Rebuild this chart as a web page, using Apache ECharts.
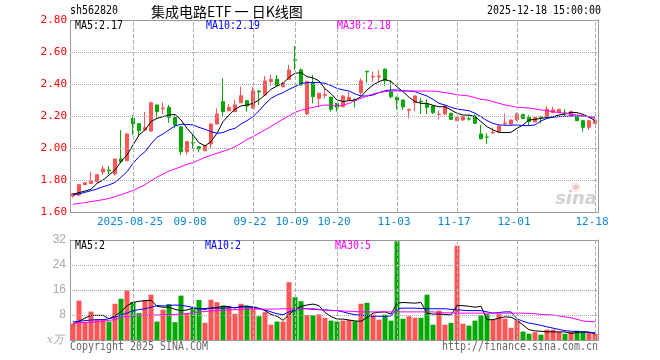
<!DOCTYPE html>
<html><head><meta charset="utf-8">
<script src="https://cdn.jsdelivr.net/npm/echarts@6/dist/echarts.min.js"></script>
<style>html,body{margin:0;padding:0;background:#fff}#c{width:660px;height:360px}</style>
</head><body><div id="c"></div><script>
const dates = ['08-11','08-12','08-13','08-14','08-15','08-18','08-19','08-20','08-21','08-22','08-25','08-26','08-27','08-28','08-29',
'09-01','09-02','09-03','09-04','09-05','09-08','09-09','09-10','09-11','09-12','09-15','09-16','09-17','09-18','09-19','09-22','09-23','09-24','09-25','09-26','09-29','09-30',
'10-09','10-10','10-13','10-14','10-15','10-16','10-17','10-20','10-21','10-22','10-23','10-24','10-27','10-28','10-29','10-30','10-31',
'11-03','11-04','11-05','11-06','11-07','11-10','11-11','11-12','11-13','11-14','11-17','11-18','11-19','11-20','11-21','11-24','11-25','11-26','11-27','11-28',
'12-01','12-02','12-03','12-04','12-05','12-08','12-09','12-10','12-11','12-12','12-15','12-16','12-17','12-18'];
const tickDates = ['08-25','09-08','09-22','10-09','10-20','11-03','11-17','12-01','12-18'];
const firstTickLabel = '2025-08-25';
const priceGrid = [1.8, 2.0, 2.2, 2.4, 2.6];
const volGrid = [8, 16, 24];
const opens = [1.700,1.706,1.771,1.779,1.790,1.850,1.862,1.838,1.931,1.921,2.185,2.152,2.112,2.106,2.269,2.245,2.254,2.190,2.133,1.977,2.035,2.008,1.983,2.025,2.150,2.290,2.233,2.227,2.283,2.296,2.248,2.356,2.331,2.415,2.429,2.383,2.429,2.552,2.488,2.213,2.408,2.310,2.329,2.317,2.279,2.258,2.300,2.302,2.346,2.479,2.444,2.444,2.492,2.352,2.317,2.300,2.236,2.283,2.292,2.275,2.262,2.209,2.212,2.217,2.171,2.175,2.183,2.200,2.088,2.069,2.094,2.102,2.152,2.150,2.175,2.210,2.192,2.163,2.194,2.196,2.221,2.221,2.219,2.200,2.196,2.171,2.129,2.154];
const closes = [1.715,1.771,1.783,1.794,1.833,1.869,1.858,1.931,1.915,2.088,2.152,2.108,2.127,2.283,2.227,2.250,2.192,2.144,1.977,2.040,2.031,1.994,2.015,2.150,2.212,2.227,2.254,2.269,2.327,2.262,2.358,2.350,2.419,2.429,2.390,2.404,2.488,2.548,2.394,2.415,2.321,2.342,2.333,2.242,2.254,2.325,2.317,2.298,2.419,2.475,2.448,2.450,2.421,2.321,2.300,2.258,2.240,2.325,2.289,2.254,2.221,2.212,2.262,2.179,2.192,2.196,2.181,2.154,2.058,2.067,2.098,2.137,2.156,2.175,2.212,2.185,2.165,2.192,2.190,2.242,2.238,2.242,2.217,2.227,2.171,2.129,2.171,2.171];
const lows = [1.690,1.700,1.768,1.775,1.786,1.831,1.838,1.827,1.904,1.918,2.081,2.071,2.108,2.100,2.185,2.210,2.158,2.123,1.956,1.960,1.992,1.973,1.980,1.998,2.148,2.200,2.230,2.225,2.280,2.227,2.245,2.270,2.325,2.388,2.388,2.379,2.425,2.488,2.390,2.206,2.279,2.254,2.310,2.227,2.227,2.255,2.295,2.254,2.331,2.408,2.415,2.415,2.388,2.310,2.242,2.238,2.185,2.233,2.212,2.212,2.212,2.179,2.206,2.175,2.168,2.170,2.171,2.150,2.054,2.025,2.088,2.092,2.144,2.144,2.170,2.180,2.144,2.160,2.154,2.190,2.218,2.218,2.196,2.196,2.168,2.102,2.113,2.150];
const highs = [1.720,1.775,1.785,1.850,1.835,1.890,1.887,1.935,2.112,2.090,2.206,2.155,2.225,2.290,2.270,2.285,2.269,2.206,2.135,2.042,2.081,2.010,2.020,2.155,2.248,2.435,2.275,2.300,2.383,2.300,2.383,2.362,2.450,2.456,2.456,2.415,2.519,2.638,2.498,2.420,2.456,2.345,2.377,2.320,2.280,2.331,2.352,2.310,2.435,2.483,2.477,2.487,2.498,2.425,2.320,2.302,2.248,2.331,2.310,2.304,2.265,2.233,2.269,2.220,2.195,2.200,2.206,2.210,2.144,2.092,2.129,2.140,2.217,2.178,2.221,2.212,2.206,2.195,2.196,2.262,2.258,2.245,2.242,2.233,2.200,2.173,2.175,2.175];
const ma5 = [1.712,1.721,1.731,1.742,1.779,1.800,1.831,1.862,1.915,1.956,2.019,2.081,2.113,2.165,2.185,2.196,2.206,2.210,2.175,2.123,2.081,2.033,2.013,2.040,2.092,2.165,2.206,2.242,2.263,2.269,2.279,2.300,2.331,2.367,2.388,2.404,2.442,2.467,2.471,2.446,2.438,2.420,2.370,2.340,2.300,2.290,2.296,2.300,2.321,2.363,2.394,2.415,2.429,2.415,2.383,2.352,2.317,2.290,2.279,2.279,2.267,2.258,2.258,2.238,2.217,2.206,2.206,2.196,2.165,2.133,2.113,2.098,2.096,2.098,2.123,2.144,2.175,2.179,2.185,2.190,2.196,2.206,2.212,2.223,2.221,2.210,2.192,2.172];
const ma10 = [1.706,1.713,1.723,1.733,1.744,1.758,1.769,1.785,1.817,1.852,1.904,1.946,1.977,2.025,2.067,2.088,2.113,2.138,2.148,2.148,2.144,2.129,2.117,2.102,2.092,2.096,2.113,2.123,2.150,2.171,2.196,2.233,2.275,2.310,2.331,2.346,2.367,2.383,2.404,2.408,2.410,2.410,2.404,2.390,2.373,2.363,2.356,2.338,2.325,2.325,2.331,2.346,2.358,2.363,2.363,2.358,2.356,2.352,2.338,2.325,2.304,2.279,2.269,2.254,2.244,2.238,2.233,2.217,2.196,2.171,2.154,2.144,2.142,2.142,2.144,2.140,2.140,2.144,2.169,2.185,2.192,2.196,2.198,2.200,2.200,2.200,2.196,2.192];
const ma30 = [1.648,1.654,1.658,1.665,1.671,1.677,1.685,1.696,1.708,1.721,1.735,1.752,1.771,1.795,1.818,1.837,1.856,1.869,1.883,1.898,1.908,1.925,1.942,1.954,1.967,1.979,1.992,2.008,2.029,2.054,2.071,2.092,2.113,2.135,2.158,2.180,2.200,2.222,2.236,2.246,2.254,2.262,2.269,2.267,2.262,2.267,2.279,2.296,2.310,2.325,2.338,2.346,2.352,2.356,2.356,2.356,2.356,2.356,2.356,2.356,2.356,2.352,2.346,2.340,2.333,2.329,2.325,2.315,2.304,2.300,2.290,2.279,2.269,2.262,2.254,2.252,2.250,2.244,2.238,2.233,2.227,2.221,2.217,2.212,2.206,2.200,2.196,2.185];
const volumes = [5.2,12.6,5.8,9.1,6.7,6.7,5.9,11.6,13.2,15.9,12.2,8.6,12.8,14.5,5.9,9.7,11.5,5.7,14.2,8.6,9.9,12.8,5.5,12.9,12.1,11.0,10.6,8.4,11.6,11.0,10.8,7.6,8.9,4.9,5.9,5.9,18.5,13.7,12.4,8.0,7.9,8.2,7.1,6.2,5.9,6.2,6.4,6.0,11.6,11.9,8.1,6.5,8.1,6.2,31.6,6.8,7.6,7.1,7.1,14.5,4.9,9.4,4.9,5.5,30.2,5.2,4.6,6.2,7.9,8.3,6.5,8.3,6.8,3.9,6.3,2.7,2.0,2.5,1.7,3.3,3.3,2.6,2.0,2.6,3.0,2.7,2.5,2.0];
const volMa5 = [5.1,6.0,7.0,7.9,7.9,7.9,6.8,7.8,9.0,11.0,12.0,12.4,12.6,12.7,10.8,10.5,10.5,9.8,9.4,9.6,10.2,10.0,9.8,10.2,10.4,10.8,10.7,10.2,10.8,10.8,10.5,10.2,9.4,8.2,7.6,6.3,8.1,9.8,10.8,11.2,11.5,11.0,8.8,7.5,6.7,6.7,6.4,6.1,6.0,7.2,8.6,8.9,9.0,8.3,11.8,12.0,11.9,11.8,12.0,8.6,8.3,8.3,8.2,8.0,11.0,11.0,10.8,10.5,10.8,6.5,6.5,7.0,7.4,7.3,6.3,4.8,3.3,2.9,2.8,2.6,2.6,2.6,2.6,2.1,2.4,2.6,2.5,2.0];
const volMa10 = [5.8,6.0,6.2,6.4,6.5,6.5,6.8,7.3,8.0,8.6,9.4,9.7,10.0,10.5,11.0,10.9,11.0,11.2,11.1,10.8,10.4,10.0,10.1,10.2,10.2,10.2,10.3,10.4,10.5,10.6,10.4,10.0,9.6,9.0,8.4,8.1,9.0,9.7,10.2,10.0,9.8,9.7,9.6,9.5,9.4,9.0,8.5,8.1,7.9,7.8,7.6,7.6,7.6,7.7,10.0,10.2,10.2,10.2,10.1,10.0,10.0,10.0,10.0,9.8,9.7,9.5,9.4,9.4,9.4,9.0,8.6,8.8,9.0,9.0,6.8,6.0,5.4,5.1,4.7,4.2,3.8,3.4,3.0,2.8,2.7,2.6,2.5,2.3];
const volMa30 = [5.4,5.5,5.6,5.7,5.8,6.0,6.3,6.5,7.2,7.6,7.7,7.8,7.9,7.9,8.0,8.1,8.1,8.2,8.3,8.5,8.7,9.0,9.1,9.3,9.4,9.5,9.6,9.7,9.8,9.9,9.9,9.9,9.9,9.9,9.9,10.0,10.0,10.0,10.0,10.0,10.0,9.8,9.6,9.4,9.4,9.3,9.2,9.1,9.0,9.0,9.0,9.0,9.0,9.0,9.0,9.0,9.0,9.0,9.0,9.0,9.0,8.8,8.7,8.7,8.6,8.6,8.6,8.6,8.6,8.6,8.6,8.6,8.6,8.6,8.6,8.6,8.5,8.4,8.2,8.1,8.0,7.7,7.4,7.1,6.6,6.1,5.9,5.8];
const priceLegend = ['MA5:2.17','MA10:2.19','MA30:2.18'];
const volLegend = ['MA5:2','MA10:2','MA30:5'];
const headerTexts = ['sh562820','集成电路ETF 一 日K线图','2025-12-18 15:00:00'];
const footerTexts = ['Copyright 2025 SINA.COM','http://finance.sina.com.cn'];

const UP = '#ff5555', DOWN = '#00a800';
const MONO = '"DejaVu Sans Mono", monospace';
const tickFn = (i, v) => tickDates.indexOf(v !== undefined ? v : dates[i]) >= 0;

const kData = dates.map((d, i) => [opens[i], closes[i], lows[i], highs[i]]);
const volData = volumes.map((v, i) => ({value: v, itemStyle: {color: closes[i] >= opens[i] ? UP : DOWN}}));

function gridLines(hValues) {
  const data = [];
  hValues.forEach(v => data.push({yAxis: v, lineStyle: {color: '#a8a8a8', type: 'dotted', width: 1}}));
  tickDates.forEach(d => data.push({xAxis: d, lineStyle: {color: '#b0b0b0', type: 'dashed', width: 1}}));
  return {silent: true, symbol: ['none', 'none'], animation: false, label: {show: false},
    emphasis: {disabled: true}, data: data};
}
function txt(x, y, s, color, align) {
  return {type: 'text', x: x, y: y, scaleX: 0.83, silent: true, z: 100,
    style: {text: s, fill: color, font: '12px ' + MONO, textAlign: align || 'left', textVerticalAlign: 'middle'}};
}
const border = () => ({show: true, onZero: false, lineStyle: {color: '#999'}});
const plain = () => ({axisLine: border(), axisTick: {show: false}, axisLabel: {show: false}, splitLine: {show: false}});

const chart = echarts.init(document.getElementById('c'), null, {renderer: 'canvas'});
chart.setOption({
  animation: false,
  grid: [
    {left: 70, top: 20, width: 528, height: 192},
    {left: 70, top: 240, width: 528, height: 100}
  ],
  xAxis: [
    {type: 'category', gridIndex: 0, data: dates, boundaryGap: true,
     axisLine: border(), axisTick: {show: false}, splitLine: {show: false},
     axisLabel: {interval: tickFn, margin: 5, color: '#0a88d8', fontFamily: MONO, fontSize: 11, padding: [0, 6, 0, 0],
       formatter: v => v === tickDates[0] ? firstTickLabel : v}},
    Object.assign({type: 'category', gridIndex: 0, data: dates, boundaryGap: true, position: 'top'}, plain()),
    {type: 'category', gridIndex: 1, data: dates, boundaryGap: true,
     axisLine: border(), axisTick: {show: false}, axisLabel: {show: false}, splitLine: {show: false}},
    Object.assign({type: 'category', gridIndex: 1, data: dates, boundaryGap: true, position: 'top'}, plain())
  ],
  yAxis: [
    {type: 'value', gridIndex: 0, min: 1.6, max: 2.8, interval: 0.2,
     axisLine: border(), axisTick: {show: false}, splitLine: {show: false},
     axisLabel: {color: '#ff0000', fontFamily: MONO, fontSize: 11, margin: 3, formatter: v => v.toFixed(2)}},
    Object.assign({type: 'value', gridIndex: 0, min: 1.6, max: 2.8, interval: 0.2, position: 'right'}, plain()),
    {type: 'value', gridIndex: 1, min: 0, max: 32, interval: 8,
     axisLine: border(), axisTick: {show: false}, splitLine: {show: false},
     axisLabel: {color: '#aaaaaa', fontFamily: '"Liberation Sans", sans-serif', fontSize: 12, margin: 4, formatter: v => v === 0 ? '' : String(v)}},
    Object.assign({type: 'value', gridIndex: 1, min: 0, max: 32, interval: 8, position: 'right'}, plain())
  ],
  series: [
    {type: 'candlestick', xAxisIndex: 0, yAxisIndex: 0, data: kData, barWidth: 4,
     itemStyle: {color: UP, color0: DOWN, borderColor: UP, borderColor0: DOWN, borderWidth: 1},
     markLine: gridLines(priceGrid)},
    {type: 'line', xAxisIndex: 0, yAxisIndex: 0, data: ma5, symbol: 'none', lineStyle: {color: '#000', width: 1}},
    {type: 'line', xAxisIndex: 0, yAxisIndex: 0, data: ma10, symbol: 'none', lineStyle: {color: '#0000ff', width: 1}},
    {type: 'line', xAxisIndex: 0, yAxisIndex: 0, data: ma30, symbol: 'none', lineStyle: {color: '#ff00ff', width: 1}},
    {type: 'bar', xAxisIndex: 2, yAxisIndex: 2, data: volData, barWidth: 5, markLine: gridLines(volGrid)},
    {type: 'line', xAxisIndex: 2, yAxisIndex: 2, data: volMa5, symbol: 'none', lineStyle: {color: '#000', width: 1}},
    {type: 'line', xAxisIndex: 2, yAxisIndex: 2, data: volMa10, symbol: 'none', lineStyle: {color: '#0000ff', width: 1}},
    {type: 'line', xAxisIndex: 2, yAxisIndex: 2, data: volMa30, symbol: 'none', lineStyle: {color: '#ff00ff', width: 1}}
  ],
  graphic: [
    txt(70, 11, headerTexts[0], '#000'),
    {type: 'text', x: 151, y: 12, silent: true, z: 100,
     style: {text: headerTexts[1], fill: '#000', font: '14px "Noto Sans CJK SC"', textAlign: 'left', textVerticalAlign: 'middle'}},
    txt(601, 11, headerTexts[2], '#000', 'right'),
    txt(75, 26, priceLegend[0], '#000'),
    txt(206, 26, priceLegend[1], '#0000ff'),
    txt(337, 26, priceLegend[2], '#ff00ff'),
    txt(75, 246, volLegend[0], '#000'),
    txt(205, 246, volLegend[1], '#0000ff'),
    txt(335, 246, volLegend[2], '#ff00ff'),
    txt(70, 347, footerTexts[0], '#666'),
    txt(598, 347, footerTexts[1], '#666', 'right'),
    {type: 'text', x: 64, y: 340, silent: true, z: 100,
     style: {text: 'x万', fill: '#aaa', font: 'italic 11px "DejaVu Serif"', textAlign: 'right', textVerticalAlign: 'middle'}},
    {type: 'text', x: 597, y: 199, silent: true, z: 100,
     style: {text: 'sina', fill: '#d2d2d2', font: 'italic bold 18px "DejaVu Sans"', textAlign: 'right', textVerticalAlign: 'middle'}},
    {type: 'text', x: 576, y: 187, silent: true, z: 100,
     style: {text: '◉', fill: '#f3c4c4', font: '11px "DejaVu Sans"', textAlign: 'center', textVerticalAlign: 'middle'}}
  ]
});
</script></body></html>
